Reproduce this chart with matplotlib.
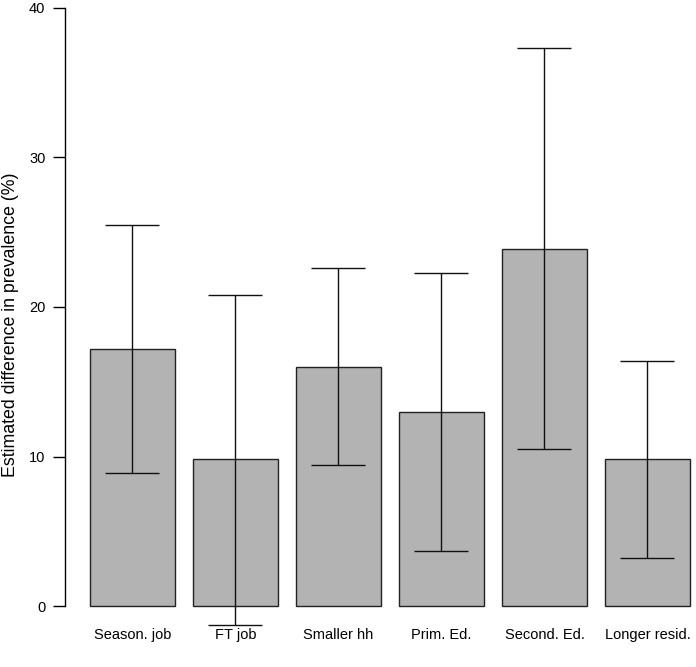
import numpy as np
import matplotlib
matplotlib.use("Agg")
from matplotlib import pyplot as plt
from matplotlib import transforms

plt.rcParams['font.family'] = ['Liberation Sans', 'DejaVu Sans']

categories = ['Season. job', 'FT job', 'Smaller hh', 'Prim. Ed.', 'Second. Ed.', 'Longer resid.']
estimate = [17.2, 9.8, 16.0, 13.0, 23.9, 9.8]
lower = [8.9, -1.3, 9.4, 3.7, 10.5, 3.2]
upper = [25.5, 20.8, 22.6, 22.3, 37.3, 16.4]

W, H = 696, 667
fig = plt.figure(figsize=(W / 100, H / 100), dpi=100)
# axes box in pixels: left 65, bottom edge at 620, top at 0
ax = fig.add_axes([65 / W, (H - 620) / H, (W - 65) / W, 620 / H])

x = np.arange(len(categories))
est = np.array(estimate)
yerr = [est - np.array(lower), np.array(upper) - est]

ax.bar(x, est, width=0.825, color='#b3b3b3', edgecolor='#222222', linewidth=1.0, zorder=2)
ax.errorbar(x, est, yerr=yerr, fmt='none', ecolor='#111111', elinewidth=1.0,
            capsize=19.5, capthick=1.0, clip_on=False, zorder=3)

ax.set_xlim(-0.655, (W - 132.5) / 103)
ax.set_ylim(-14 / 14.95, 40 + 8 / 14.95)

for s in ['top', 'right', 'bottom']:
    ax.spines[s].set_visible(False)
ax.spines['left'].set_bounds(0, 40)
ax.spines['left'].set_linewidth(1.0)

ax.set_yticks([0, 10, 20, 30, 40])
ax.tick_params(axis='y', length=8.6, width=1.0, pad=5.5, labelsize=10.5)
ax.set_xticks(x)
ax.set_xticklabels(categories)
ax.tick_params(axis='x', length=0, pad=6, labelsize=10.5)

trans = transforms.blended_transform_factory(ax.transAxes, ax.transData)
ax.text(-54 / 631, 18.8, 'Estimated difference in prevalence (%)', rotation=90,
        ha='center', va='center', fontsize=12.8, transform=trans)

fig.savefig('out.png', dpi=100)
